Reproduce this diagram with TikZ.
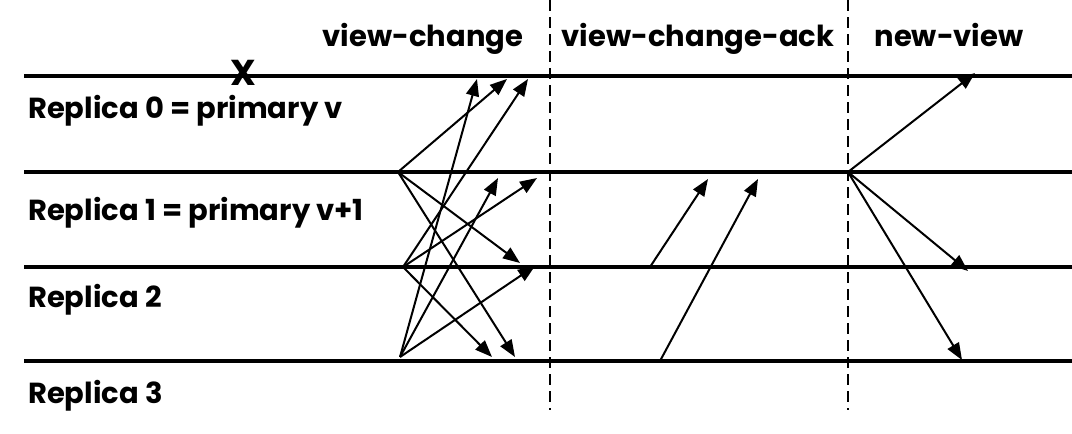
\documentclass[tikz,border=0pt]{standalone}
\usepackage{fontspec}
\setmainfont{Poppins}
\usetikzlibrary{arrows.meta}
\begin{document}
\begin{tikzpicture}[x=1pt,y=-1pt,>={Triangle[length=17pt,width=13pt]},
  msg/.style={->,line width=2pt},
  lbl/.style={font=\fontsize{29}{32}\selectfont\bfseries,inner sep=0pt}]
\useasboundingbox (0,0) rectangle (1072,434);

\foreach \y[count=\i from 0] in {76,172,267,361}
\draw[line width=3.6pt](24,\y)coordinate(a\i)--(1072,\y)coordinate(b\i);

\foreach \x[count=\i] in {550,848}
\draw[line width=2pt,dash pattern=on 11pt off 6pt](\x,0)coordinate(t\i)--(\x,410)coordinate(u\i);

\node(vc)[lbl,anchor=base] at (423,46){view-change};
\node(vca)[lbl,anchor=base] at (698,46){view-change-ack};
\node(nv)[lbl,anchor=base] at (949,46){new-view};

\node(x)[font=\fontsize{36}{36}\selectfont\bfseries,inner sep=0pt] at (243,73){X};

\node(r0)[lbl,anchor=base west] at (28,118){Replica 0 = primary v};
\node(r1)[lbl,anchor=base west] at (28,220){Replica 1 = primary v+1};
\node(r2)[lbl,anchor=base west] at (28,307){Replica 2};
\node(r3)[lbl,anchor=base west] at (28,403){Replica 3};

\coordinate(s1) at (398,172);
\coordinate(s2) at (403,267);
\coordinate(s3) at (400,357);
\coordinate(k2) at (650,267);
\coordinate(k3) at (660,361);
\coordinate(n1) at (848,172);

%view-change, view-change-ack, new-view
\foreach \s/\x/\y[count=\i] in {s1/507/79,s1/520/263,s1/515/357,
  s2/528/79,s2/537/178,s2/492/357,
  s3/477/79,s3/498/178,s3/535/266,
  k2/708/179,k3/758/179,
  n1/975/73,n1/968/271,n1/962/360}
{\coordinate(e\i) at (\x,\y);
\draw[msg](\s)--(e\i);}

\end{tikzpicture}
\end{document}
